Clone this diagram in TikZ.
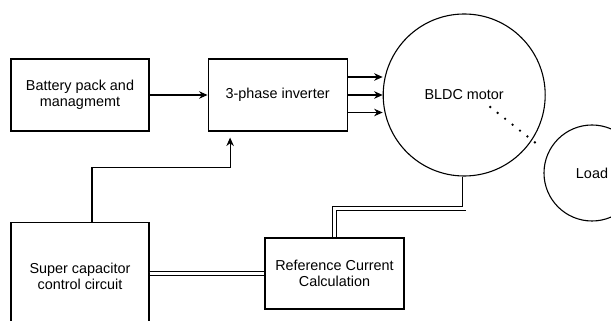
\documentclass[tikz,border=0pt]{standalone}
\usepackage{fontspec}
\setmainfont{Liberation Sans}
\usetikzlibrary{arrows.meta, positioning}
\begin{document}
\begin{tikzpicture}[x=1pt, y=1pt,
        blk/.style={rectangle, draw, line width=1.1pt, minimum width=138pt,
                    minimum height=72pt, align=center, inner sep=0pt},
        disc/.style={circle, draw, line width=1.1pt, inner sep=0pt},
        arr/.style={-{Stealth[length=8.5pt,width=7.5pt]}, line width=1.1pt},
        dbl/.style={double, double distance=2.6pt, line width=0.9pt},
        dots/.style={line width=2.6pt, line cap=round, dash pattern=on 0pt off 9.5pt},
        font=\fontsize{14.4}{16.3}\selectfont,
        node distance=58pt]
      \useasboundingbox (0,0) rectangle (611,321);
      \clip (0,0) rectangle (611,321);
      \node[blk] (bat) at (80,226) {Battery pack and\\ managmemt};
      \node[blk, right=of bat, minimum width=139pt] (inv) {3-phase inverter};
      \node[disc, minimum size=162pt, right=35pt of inv] (motor) {BLDC motor};
      \node[disc, minimum size=96pt] (load) at (592,148) {Load};
      \node[blk, minimum height=108pt, below=90pt of bat] (sc) {Super capacitor\\ control circuit};
      \node[blk, minimum width=139pt, minimum height=71pt] (ref) at (334.5,47.5) {Reference Current\\ Calculation};
      \draw[arr] (bat) -- (inv);
      \foreach \dy in {18,0,-17.5}
        \draw[arr] ([yshift=\dy pt]inv.east) -- ([yshift=\dy pt]inv.east -| motor.west);
      \draw[arr] ([xshift=12pt]sc.north) -- ++(0,54) -| ([xshift=-47.5pt,yshift=-6pt]inv.south);
      \draw[dbl] (ref.west -| sc.east) -- (ref.west);
      \draw[dbl] (motor.south) -- ++(0,-32) -| (ref.north);
      \draw[dots] ([shift={(26pt,-12pt)}]motor.center) -- ([shift={(-50pt,25pt)}]load.center);
    \end{tikzpicture}
\end{document}
